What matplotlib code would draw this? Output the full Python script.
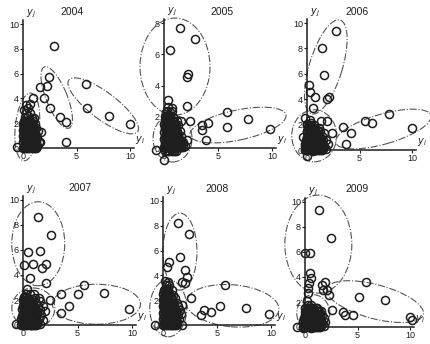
import matplotlib
matplotlib.use('Agg')
import matplotlib.pyplot as plt
from matplotlib.patches import Ellipse
from matplotlib.transforms import Affine2D

plt.rcParams['font.family'] = ['Liberation Sans', 'DejaVu Sans']

years = ['2004', '2005', '2006', '2007', '2008', '2009']

# scattered (outlying) points per year
out_x = [
    [2.9, 2.4, 2.2, 1.6, 2.0, 2.5, 0.9, 3.5, 4.0, 4.0, 5.9, 6.0, 8.0, 10.0],
    [1.5, 2.9, 0.6, 2.2, 2.1, 0.4, 2.1, 2.4, 3.5, 4.1, 3.5, 3.9, 5.8, 5.8, 7.8, 9.8],
    [2.8, 1.4, 1.65, 0.2, 0.3, 0.75, 1.9, 2.1, 0.6, 1.9, 2.35, 3.45, 4.15, 3.7, 5.5, 6.2, 7.85, 10.0],
    [1.4, 2.6, 0.5, 1.6, 0.05, 0.95, 1.7, 2.1, 0.6, 2.1, 2.5, 3.5, 4.25, 3.5, 5.05, 5.6, 7.45, 9.75],
    [1.4, 2.45, 1.55, 0.6, 0.35, 2.05, 2.25, 1.75, 2.05, 5.75, 2.6, 3.8, 3.5, 4.45, 5.3, 7.7, 9.85],
    [1.3, 2.5, 0.0, 0.5, 0.5, 0.55, 0.4, 0.3, 0.25, 1.9, 1.65, 2.05, 1.75, 2.3, 5.8, 5.1, 7.6,
     2.6, 3.65, 3.8, 4.6, 10.0, 10.2],
]
out_y = [
    [8.2, 5.7, 5.0, 4.9, 4.0, 3.2, 4.05, 2.5, 2.1, 0.45, 5.2, 3.25, 2.6, 1.9],
    [7.7, 7.0, 6.3, 4.75, 4.55, 3.1, 2.7, 1.7, 1.45, 1.6, 1.15, 0.5, 2.3, 1.35, 1.85, 1.2],
    [9.4, 8.0, 5.9, 5.1, 4.6, 4.2, 4.05, 4.2, 3.3, 2.25, 1.3, 1.8, 1.35, 0.45, 2.3, 2.1, 2.8, 1.75],
    [8.65, 7.2, 5.85, 5.95, 4.8, 4.9, 4.55, 4.85, 3.75, 3.4, 2.0, 2.45, 1.5, 0.95, 2.5, 3.2, 2.6, 1.25],
    [8.2, 7.3, 5.45, 5.1, 4.65, 4.4, 3.9, 3.5, 3.35, 3.2, 2.15, 1.25, 0.8, 1.05, 1.55, 1.35, 0.85],
    [9.35, 7.1, 5.9, 5.9, 4.3, 3.9, 3.5, 3.1, 2.7, 3.6, 3.35, 2.95, 2.95, 2.6, 3.6, 2.4, 2.2,
     1.4, 1.2, 1.0, 1.0, 0.8, 0.6],
]

# points around the edge of the cluster near the origin
clu_x = [
    [0.1, 0.4, 0.7, 1.0, 1.3, 0.25, 0.55, 0.85, 1.15, 1.45, 0.1, 0.4, 0.7, 1.0, 1.3,
     0.25, 0.55, 0.85, 1.2, 0.1, 0.4, 0.7, 1.0, 1.4, 0.25, 0.55, 0.9, 1.2, 0.1, 0.45, 0.8, 1.1,
     0.3, 0.6, 0.95, 0.15, 0.5, 0.8, 0.3, 0.65, 0.1, 0.5, 0.3, 0.7, -0.6, 1.7, 1.6, 1.0],
    [0.1, 0.4, 0.7, 1.0, 1.3, 1.6, 1.9, 0.25, 0.55, 0.85, 1.15, 1.45, 1.8, 2.1,
     0.1, 0.4, 0.7, 1.0, 1.3, 1.6, 0.25, 0.55, 0.85, 1.2, 1.5, 0.1, 0.4, 0.7, 1.0, 1.3,
     0.25, 0.55, 0.9, 1.2, 0.1, 0.45, 0.8, 0.3, 0.6, 0.4, 0.7, -0.7, 0.0, 0.75, 1.6, 0.2],
    [0.0, 0.3, 0.6, 0.9, 1.2, 1.5, 1.8, -0.15, 0.15, 0.45, 0.75, 1.05, 1.35, 1.65, 2.0,
     0.0, 0.3, 0.6, 0.9, 1.2, 1.5, 1.8, 0.15, 0.45, 0.75, 1.05, 1.4, 0.0, 0.3, 0.6, 0.9, 1.2,
     0.15, 0.45, 0.8, 1.1, 0.0, 0.35, 0.7, -0.2, 0.3, 1.3, 0.0, 1.6, -0.4],
    [0.1, 0.4, 0.7, 1.0, 1.3, 1.6, 0.25, 0.55, 0.85, 1.15, 1.45, 1.8, 0.1, 0.4, 0.7, 1.0,
     1.3, 1.65, 0.25, 0.55, 0.85, 1.2, 1.55, 2.0, 0.1, 0.4, 0.7, 1.0, 1.35, 1.8,
     0.25, 0.55, 0.9, 1.2, 1.6, 0.1, 0.45, 0.8, 1.1, 1.45, 0.3, 0.65, 1.0, -0.6, 0.4],
    [0.1, 0.4, 0.7, 1.0, 1.3, 0.25, 0.55, 0.85, 1.15, 1.5, 0.1, 0.4, 0.7, 1.0, 1.35,
     0.25, 0.55, 0.85, 1.2, 1.55, 0.1, 0.4, 0.7, 1.05, 1.4, 0.25, 0.55, 0.9, 1.25,
     0.1, 0.45, 0.8, 1.1, 0.25, 0.6, 0.95, 0.1, 0.45, 0.8, 0.3, 0.6, 0.2, 0.5, 1.7, 1.8,
     -0.75, 1.75],
    [0.0, 0.3, 0.6, 0.9, 1.2, 1.5, 1.8, 0.15, 0.45, 0.75, 1.05, 1.35, 1.65, 1.95,
     0.0, 0.3, 0.6, 0.9, 1.2, 1.5, 1.8, 0.15, 0.45, 0.75, 1.05, 1.35, 1.65,
     0.0, 0.3, 0.6, 0.9, 1.2, 1.5, 0.15, 0.45, 0.8, 1.1, 0.3, 0.6, -0.8, -0.2, 0.2],
]
clu_y = [
    [0.1, 0.15, 0.05, 0.1, 0.2, 0.4, 0.45, 0.35, 0.4, 0.5, 0.7, 0.75, 0.65, 0.7, 0.8,
     1.0, 1.05, 0.95, 1.0, 1.3, 1.35, 1.25, 1.3, 1.4, 1.6, 1.65, 1.55, 1.6, 1.9, 1.95, 1.85, 1.9,
     2.2, 2.25, 2.15, 2.5, 2.55, 2.45, 2.8, 2.85, 3.1, 3.2, 3.5, 3.55, 0.05, 1.3, 0.5, 2.4],
    [0.0, 0.05, -0.05, 0.0, 0.1, 0.05, 0.15, 0.35, 0.4, 0.3, 0.35, 0.45, 0.4, 0.5,
     0.7, 0.75, 0.65, 0.7, 0.8, 0.75, 1.05, 1.1, 1.0, 1.05, 1.1, 1.4, 1.45, 1.35, 1.4, 1.5,
     1.75, 1.8, 1.7, 1.75, 2.05, 2.1, 2.0, 2.35, 2.3, 2.6, 2.55, -0.13, -0.77, 2.35, 1.75, 2.3],
    [0.0, 0.05, -0.05, 0.0, 0.1, 0.05, 0.1, 0.35, 0.4, 0.3, 0.35, 0.45, 0.4, 0.3, 0.45,
     0.7, 0.75, 0.65, 0.7, 0.8, 0.75, 0.8, 1.05, 1.1, 1.0, 1.05, 1.1, 1.4, 1.45, 1.35, 1.4, 1.5,
     1.75, 1.8, 1.7, 1.75, 2.05, 2.1, 2.0, 2.5, 2.4, 2.3, -0.5, 1.3, 1.0],
    [0.05, 0.1, 0.0, 0.05, 0.1, 0.05, 0.4, 0.45, 0.35, 0.4, 0.5, 0.4, 0.75, 0.8, 0.7, 0.75,
     0.85, 0.8, 1.1, 1.15, 1.05, 1.1, 1.2, 1.15, 1.45, 1.5, 1.4, 1.45, 1.55, 1.5,
     1.8, 1.85, 1.75, 1.8, 1.9, 2.15, 2.2, 2.1, 2.15, 2.2, 2.5, 2.45, 2.5, 0.1, 2.9],
    [0.05, 0.1, 0.0, 0.05, 0.1, 0.4, 0.45, 0.35, 0.4, 0.5, 0.75, 0.8, 0.7, 0.75, 0.85,
     1.1, 1.15, 1.05, 1.1, 1.2, 1.45, 1.5, 1.4, 1.45, 1.55, 1.8, 1.85, 1.75, 1.8,
     2.15, 2.2, 2.1, 2.15, 2.5, 2.55, 2.45, 2.85, 2.9, 2.8, 3.2, 3.25, 3.55, 3.5, 0.9, 1.6,
     0.0, 0.0],
    [0.0, 0.05, -0.05, 0.0, 0.1, 0.05, 0.1, 0.3, 0.35, 0.25, 0.3, 0.4, 0.35, 0.4,
     0.6, 0.65, 0.55, 0.6, 0.7, 0.65, 0.7, 0.9, 0.95, 0.85, 0.9, 1.0, 0.95,
     1.2, 1.25, 1.15, 1.2, 1.3, 1.25, 1.5, 1.55, 1.45, 1.5, 1.8, 1.75, 0.0, -0.1, 2.1],
]

# densely overlapping core of the cluster: rows of (y, [x, ...])
core_2004 = [
    (0.0, [0.0, 0.2, 0.4, 0.6, 0.8, 1.0, 1.2]),
    (0.2, [0.1, 0.3, 0.5, 0.7, 0.9, 1.1, 1.3]),
    (0.45, [0.0, 0.2, 0.4, 0.6, 0.8, 1.0, 1.2]),
    (0.7, [0.1, 0.3, 0.5, 0.7, 0.9, 1.1]),
    (0.95, [0.0, 0.2, 0.4, 0.6, 0.8, 1.0, 1.25]),
    (1.2, [0.1, 0.3, 0.5, 0.7, 0.9, 1.1]),
    (1.45, [0.0, 0.2, 0.4, 0.6, 0.8, 1.0]),
    (1.7, [0.1, 0.3, 0.5, 0.7, 0.9]),
    (1.95, [0.0, 0.2, 0.4, 0.6, 0.8]),
    (2.2, [0.1, 0.3, 0.5, 0.7]),
]
core_2005 = [
    (-0.2, [0.1, 0.3, 0.5, 0.7, 0.9, 1.1]),
    (0.05, [0.0, 0.2, 0.4, 0.6, 0.8, 1.0, 1.2, 1.4, 1.6, 1.8]),
    (0.3, [0.1, 0.3, 0.5, 0.7, 0.9, 1.1, 1.3, 1.5, 1.7]),
    (0.55, [0.0, 0.2, 0.4, 0.6, 0.8, 1.0, 1.2, 1.4]),
    (0.8, [0.1, 0.3, 0.5, 0.7, 0.9, 1.1, 1.3]),
    (1.05, [0.0, 0.2, 0.4, 0.6, 0.8, 1.0, 1.2]),
    (1.3, [0.1, 0.3, 0.5, 0.7, 0.9, 1.1]),
    (1.55, [0.0, 0.2, 0.4, 0.6, 0.8, 1.0]),
    (1.8, [0.1, 0.3, 0.5, 0.7]),
    (2.05, [0.2, 0.4, 0.6]),
]
core_2006 = [
    (0.0, [-0.2, 0.0, 0.2, 0.4, 0.6, 0.8, 1.0, 1.2, 1.4]),
    (0.25, [-0.1, 0.1, 0.3, 0.5, 0.7, 0.9, 1.1, 1.3, 1.5]),
    (0.5, [-0.2, 0.0, 0.2, 0.4, 0.6, 0.8, 1.0, 1.2, 1.4]),
    (0.75, [-0.1, 0.1, 0.3, 0.5, 0.7, 0.9, 1.1, 1.3]),
    (1.0, [0.0, 0.2, 0.4, 0.6, 0.8, 1.0, 1.2]),
    (1.25, [0.1, 0.3, 0.5, 0.7, 0.9, 1.1]),
    (1.5, [0.0, 0.2, 0.4, 0.6, 0.8, 1.0]),
    (1.75, [0.1, 0.3, 0.5, 0.7]),
    (2.0, [0.0, 0.2, 0.4]),
]
core_2007 = [
    (0.0, [-0.2, 0.0, 0.2, 0.4, 0.6, 0.8, 1.0, 1.2]),
    (0.25, [-0.1, 0.1, 0.3, 0.5, 0.7, 0.9, 1.1, 1.3]),
    (0.5, [-0.2, 0.0, 0.2, 0.4, 0.6, 0.8, 1.0, 1.2]),
    (0.75, [-0.1, 0.1, 0.3, 0.5, 0.7, 0.9, 1.1]),
    (1.0, [0.0, 0.2, 0.4, 0.6, 0.8, 1.0]),
    (1.25, [-0.1, 0.1, 0.3, 0.5, 0.7, 0.9, 1.1]),
    (1.5, [0.0, 0.2, 0.4, 0.6, 0.8]),
    (1.75, [0.1, 0.3, 0.5, 0.7]),
    (2.0, [0.0, 0.2, 0.4, 0.6]),
    (2.25, [0.1, 0.3]),
]
core_2008 = [
    (0.0, [0.0, 0.2, 0.4, 0.6, 0.8, 1.0, 1.2]),
    (0.25, [0.1, 0.3, 0.5, 0.7, 0.9, 1.1, 1.3]),
    (0.5, [0.0, 0.2, 0.4, 0.6, 0.8, 1.0, 1.2]),
    (0.75, [0.1, 0.3, 0.5, 0.7, 0.9, 1.1]),
    (1.0, [0.0, 0.2, 0.4, 0.6, 0.8, 1.0, 1.2]),
    (1.25, [0.1, 0.3, 0.5, 0.7, 0.9, 1.1]),
    (1.5, [0.0, 0.2, 0.4, 0.6, 0.8, 1.0]),
    (1.75, [0.1, 0.3, 0.5, 0.7, 0.9]),
    (2.0, [0.0, 0.2, 0.4, 0.6, 0.8]),
    (2.25, [0.1, 0.3, 0.5, 0.7]),
    (2.5, [0.0, 0.2, 0.4, 0.6]),
    (2.75, [0.1, 0.3, 0.5]),
]
core_2009 = [
    (0.0, [-0.2, 0.0, 0.2, 0.4, 0.6, 0.8, 1.0, 1.2, 1.4]),
    (0.25, [-0.1, 0.1, 0.3, 0.5, 0.7, 0.9, 1.1, 1.3, 1.5]),
    (0.5, [-0.2, 0.0, 0.2, 0.4, 0.6, 0.8, 1.0, 1.2, 1.4]),
    (0.75, [-0.1, 0.1, 0.3, 0.5, 0.7, 0.9, 1.1, 1.3]),
    (1.0, [0.0, 0.2, 0.4, 0.6, 0.8, 1.0, 1.2, 1.4]),
    (1.25, [0.1, 0.3, 0.5, 0.7, 0.9, 1.1, 1.3]),
    (1.5, [0.0, 0.2, 0.4, 0.6, 0.8, 1.0]),
]
cores = [core_2004, core_2005, core_2006, core_2007, core_2008, core_2009]

# group ellipses: centre (data units), width/height (pixels), angle (screen degrees)
ellipses = [
    [(0.4, 1.7, 24, 68, -6), (3.15, 4.07, 66, 21, 112), (7.5, 3.4, 86, 27, -37)],
    [(1.02, 5.22, 70, 97, 0), (6.85, 1.47, 98, 30, 12), (0.79, 0.61, 39, 47, 0)],
    [(1.79, 6.54, 98, 33, 73), (7.27, 1.65, 99, 30, 16), (0.69, 1.12, 45, 52, 0)],
    [(1.4, 6.5, 53, 84, 0), (6.74, 1.66, 88, 40, 0), (0.95, 1.36, 43, 40, 0)],
    [(1.57, 5.92, 34, 77, 0), (6.44, 1.55, 93, 42, -5), (0.49, 1.35, 37, 57, 0)],
    [(1.27, 6.63, 67, 98, 0), (6.67, 2.03, 100, 34, -15), (0.79, 1.1, 33, 37, 0)],
]

y_ticks = [[0, 2, 4, 6, 8, 10], [0, 2, 4, 6, 8], [0, 2, 4, 6, 8, 10],
           [0, 2, 4, 6, 8, 10], [0, 2, 4, 6, 8, 10], [0, 2, 4, 6, 8, 10]]
y_top = [10, 8, 10, 10, 10, 10]
x_ticks = [0, 5, 10]

# layout: origin in pixels and pixels per data unit
layout = [
    dict(ox=23, oy=148, sx=10.7, sy=12.4),
    dict(ox=164, oy=148, sx=10.8, sy=15.6),
    dict(ox=307, oy=150, sx=10.5, sy=12.7),
    dict(ox=23, oy=325, sx=10.9, sy=12.5),
    dict(ox=163, oy=325, sx=10.8, sy=12.4),
    dict(ox=305, oy=327, sx=10.5, sy=12.5),
]
title_px = [(72, 12), (222, 12), (357, 12), (80, 188), (217, 189), (357, 189)]

W, H = 430, 344
ink = '#1e1e1e'
fig = plt.figure(figsize=(W / 100, H / 100), dpi=100)

for i in range(6):
    L = layout[i]
    xlim = (-1.5, 11.0)
    ylim = (-1.0, y_top[i] + 0.6)
    left = L['ox'] + xlim[0] * L['sx']
    right = L['ox'] + xlim[1] * L['sx']
    top = L['oy'] - ylim[1] * L['sy']
    bottom = L['oy'] - ylim[0] * L['sy']
    ax = fig.add_axes([left / W, 1 - bottom / H, (right - left) / W, (bottom - top) / H])
    ax.set_xlim(xlim)
    ax.set_ylim(ylim)
    ax.patch.set_alpha(0)

    for s in ['top', 'right']:
        ax.spines[s].set_visible(False)
    ax.spines['left'].set_position(('data', 0))
    ax.spines['bottom'].set_position(('data', 0))
    ax.spines['left'].set_bounds(-0.2, y_top[i] + 0.3)
    ax.spines['bottom'].set_bounds(-0.2, 10.4)
    for s in ['left', 'bottom']:
        ax.spines[s].set_color(ink)
        ax.spines[s].set_linewidth(1.1)

    ax.set_xticks(x_ticks)
    ax.set_yticks(y_ticks[i])
    ax.tick_params(direction='out', length=2, width=0.8, colors=ink, labelsize=6.5, pad=1)

    for (cx, cy, w, h, a) in ellipses[i]:
        tr = Affine2D().scale(1 / L['sx'], 1 / L['sy']).translate(cx, cy) + ax.transData
        ax.add_patch(Ellipse((0, 0), w, h, angle=a, transform=tr, fill=False, ec='#555555',
                             lw=0.8, ls='-.', clip_on=False))

    core_x = [x for (y, xs) in cores[i] for x in xs]
    core_y = [y for (y, xs) in cores[i] for x in xs]
    ax.plot(core_x, core_y, 'o', ms=5.8, mfc='none', mec=ink, mew=1.2, clip_on=False)
    ax.plot(clu_x[i], clu_y[i], 'o', ms=5.8, mfc='none', mec=ink, mew=1.1, clip_on=False)
    ax.plot(out_x[i], out_y[i], 'o', ms=5.8, mfc='none', mec=ink, mew=1.1, clip_on=False)

    ax.text(0.25, y_top[i] + 0.35, '$y_j$', fontsize=7, color=ink, ha='left', va='bottom')
    ax.text(10.5, 0.15, '$y_i$', fontsize=7, color=ink, ha='left', va='bottom')

    tx, ty = title_px[i]
    fig.text(tx / W, 1 - ty / H, years[i], fontsize=7.5, color=ink, ha='center', va='center')

fig.savefig('out.png', dpi=100)
